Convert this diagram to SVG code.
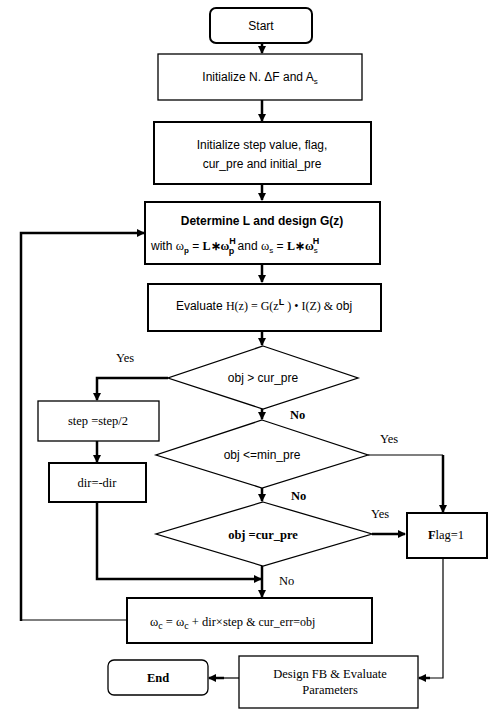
<svg xmlns="http://www.w3.org/2000/svg" width="495" height="720" viewBox="0 0 495 720">
<defs>
<style>
.box{fill:#fff;stroke:#000;stroke-width:1.3}
.tk{fill:#fff;stroke:#000;stroke-width:2}
.ln{fill:none;stroke:#000;stroke-width:2.5}
.th{fill:none;stroke:#000;stroke-width:1.2}
.sans{font-family:"Liberation Sans","DejaVu Sans",sans-serif;font-size:12px;fill:#000}
.ser{font-family:"Liberation Serif","DejaVu Serif",serif;font-size:12.5px;fill:#000}
.c{text-anchor:middle}
</style>
<marker id="ah" markerWidth="8" markerHeight="8" refX="7" refY="4" orient="auto" markerUnits="userSpaceOnUse">
<path d="M0,0 L8,4 L0,8 z" fill="#000"/>
</marker>
</defs>
<rect width="495" height="720" fill="#fff"/>

<g id="connectors">
<line class="ln" x1="262" y1="43" x2="262" y2="53" marker-end="url(#ah)"/>
<line class="ln" x1="262" y1="100" x2="262" y2="121" marker-end="url(#ah)"/>
<line class="ln" x1="262" y1="184" x2="262" y2="200" marker-end="url(#ah)"/>
<line class="ln" x1="262" y1="264" x2="262" y2="282" marker-end="url(#ah)"/>
<line class="ln" x1="262" y1="331" x2="262" y2="345" marker-end="url(#ah)"/>
<line class="ln" x1="262" y1="408" x2="262" y2="419" marker-end="url(#ah)"/>
<line class="ln" x1="262" y1="488" x2="262" y2="501" marker-end="url(#ah)"/>
<line class="ln" x1="262" y1="566" x2="262" y2="597" marker-end="url(#ah)"/>
<polyline class="ln" points="168,378 97,378 97,400" marker-end="url(#ah)"/>
<line class="ln" x1="97" y1="441" x2="97" y2="462" marker-end="url(#ah)"/>
<polyline class="ln" points="97,502 97,579 261,579" marker-end="url(#ah)"/>
<polyline class="th" points="368,455 443,455"/>
<line class="ln" x1="443" y1="455" x2="443" y2="512" marker-end="url(#ah)"/>
<line class="ln" x1="372" y1="534" x2="405" y2="534" marker-end="url(#ah)"/>
<polyline class="th" points="443,558 443,678 428,678"/>
<line class="ln" x1="430" y1="678" x2="419" y2="678" marker-end="url(#ah)"/>
<line class="th" x1="239" y1="678" x2="222" y2="678"/>
<line class="ln" x1="224" y1="678" x2="209" y2="678" marker-end="url(#ah)"/>
<line class="th" x1="127" y1="620" x2="21" y2="620"/>
<polyline class="ln" points="21,621 21,233 144,233" marker-end="url(#ah)"/>
</g>

<g id="start">
<rect class="tk" x="210" y="8" width="102" height="35" rx="6"/>
<text class="sans c" x="261" y="30" font-size="13">Start</text>
</g>

<g id="init1">
<rect class="box" x="158" y="54" width="204" height="46"/>
<text class="sans c" x="260" y="81">Initialize N.  ΔF and  A<tspan font-size="8" dy="3">s</tspan></text>
</g>

<g id="init2">
<rect class="tk" x="154" y="122" width="217" height="62"/>
<text class="sans c" x="262" y="149">Initialize step value, flag,</text>
<text class="sans c" x="262" y="168">cur_pre and initial_pre</text>
</g>

<g id="determine">
<rect class="tk" x="145" y="202" width="235" height="62"/>
<text class="sans c" x="262" y="225" font-weight="bold">Determine  L  and design  G(z)</text>
<text class="sans" x="151" y="250">with <tspan class="ser">ω</tspan><tspan font-size="8" dy="3" font-weight="bold">p</tspan><tspan dy="-3"> = </tspan><tspan font-family="Liberation Serif" font-weight="bold">L∗ω</tspan><tspan font-size="9" font-weight="bold" dy="-6">H</tspan><tspan font-size="9" font-weight="bold" dx="-7" dy="10">p</tspan><tspan dy="-4"> and  </tspan><tspan class="ser">ω</tspan><tspan font-size="8" dy="3">s</tspan><tspan dy="-3"> = </tspan><tspan font-family="Liberation Serif" font-weight="bold">L∗ω</tspan><tspan font-size="8" dy="3">s</tspan><tspan font-size="9" font-weight="bold" dx="-5" dy="-9">H</tspan></text>
</g>

<g id="evaluate">
<rect class="tk" x="148" y="284" width="233" height="47"/>
<text class="sans c" x="264" y="310">Evaluate <tspan font-family="Liberation Serif">H(z) = G(z</tspan><tspan font-size="9" font-weight="bold" dy="-5">L</tspan><tspan dy="5" font-family="Liberation Serif"> ) • I(Z) &amp; </tspan>obj</text>
</g>

<g id="d1">
<polygon class="box" points="263,346 358,378 263,409 168,378"/>
<text class="sans c" x="263" y="382">obj &gt; cur_pre</text>
</g>

<g id="d2">
<polygon class="box" points="262,420 368,455 262,488 156,455"/>
<text class="sans c" x="262" y="459">obj &lt;=min_pre</text>
</g>

<g id="d3">
<polygon class="box" points="263,502 372,534 263,566 156,534"/>
<text class="ser c" x="263" y="539" font-weight="bold" font-size="13.5">obj =cur_pre</text>
</g>

<g id="step">
<rect class="box" x="38" y="401" width="121" height="40"/>
<text class="ser c" x="98" y="425">step =step/2</text>
</g>

<g id="dir">
<rect class="tk" x="49" y="463" width="97" height="39"/>
<text class="ser c" x="97" y="487">dir=-dir</text>
</g>

<g id="flag">
<rect class="tk" x="407" y="513" width="80" height="45"/>
<text class="ser c" x="446" y="539"><tspan font-weight="bold">F</tspan>lag=1</text>
</g>

<g id="update">
<rect class="tk" x="127" y="598" width="245" height="45"/>
<text class="ser" x="150" y="626" font-size="14">ω<tspan font-size="10" dy="3">c</tspan><tspan dy="-3"> = ω</tspan><tspan font-size="10" dy="3">c</tspan><tspan dy="-3"> + dir×step </tspan><tspan font-size="12"> &amp; cur_err=obj</tspan></text>
</g>

<g id="design">
<rect class="box" x="239" y="656" width="179" height="52"/>
<text class="ser c" x="330" y="678">Design FB  &amp; Evaluate</text>
<text class="ser c" x="330" y="694">Parameters</text>
</g>

<g id="end">
<rect class="box" x="108" y="660" width="100" height="35" rx="6"/>
<text class="ser c" x="158" y="682" font-weight="bold">End</text>
</g>

<g id="labels">
<text class="ser" x="116" y="362">Yes</text>
<text class="ser" x="290" y="419" font-weight="bold">No</text>
<text class="ser" x="380" y="443">Yes</text>
<text class="ser" x="291" y="500" font-weight="bold">No</text>
<text class="ser" x="371" y="518">Yes</text>
<text class="ser" x="279" y="585">No</text>
</g>
</svg>
